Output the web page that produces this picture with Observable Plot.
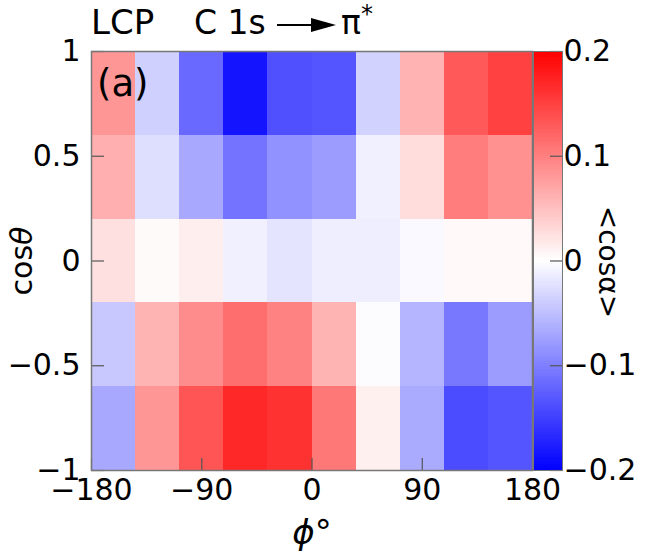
<!DOCTYPE html>
<html><head><meta charset="utf-8">
<script src="https://cdn.jsdelivr.net/npm/d3@7"></script>
<script src="https://cdn.jsdelivr.net/npm/@observablehq/plot@0.6"></script>
<style>
body{margin:0;background:#fff;}
#wrap{position:relative;width:646px;height:559px;background:#fff;}
#wrap svg{position:absolute;left:0;top:0;}
</style></head><body><div id="wrap"></div>
<script>
// bin edges
const phiEdges = [-180,-144,-108,-72,-36,0,36,72,108,144,180];
const cosEdges = [-1,-0.6,-0.2,0.2,0.6,1];
// <cos alpha> per cell, one array per cos(theta) row, bottom to top
const rowM10_M06 = [-0.068, 0.082, 0.133, 0.169, 0.161, 0.106, 0.012,-0.067,-0.141,-0.133];
const rowM06_M02 = [-0.043, 0.059, 0.090, 0.114, 0.098, 0.059,-0.002,-0.059,-0.106,-0.078];
const rowM02_P02 = [ 0.024, 0.004, 0.013,-0.012,-0.021,-0.013,-0.013,-0.005, 0.005, 0.005];
const rowP02_P06 = [ 0.063,-0.026,-0.068,-0.110,-0.086,-0.078,-0.012, 0.027, 0.102, 0.086];
const rowP06_P10 = [ 0.082,-0.037,-0.118,-0.184,-0.137,-0.133,-0.035, 0.060, 0.130, 0.149];
const rows = [rowM10_M06, rowM06_M02, rowM02_P02, rowP02_P06, rowP06_P10];
const xTicks = [-180,-90,0,90,180];
const yTicks = [-1,-0.5,0,0.5,1];
const zTicks = [-0.2,-0.1,0,0.1,0.2];

const cells = [];
rows.forEach((r, j) => r.forEach((v, i) => cells.push({
  x1: phiEdges[i], x2: phiEdges[i+1], y1: cosEdges[j], y2: cosEdges[j+1], v
})));

const W = 646, H = 559, mT = 51, mB = 89;
const mL = 91, mR = 114;           // main panel
const cbL = 533, cbR = 84;         // colour bar
const frameW = W - mL - mR, frameH = H - mT - mB, cbW = W - cbL - cbR;
const fmt = d3.format("~g");
const FONT = "DejaVu Sans";
const colorOpts = {type: "linear", domain: [-0.2, 0, 0.2], range: ["#0000ff", "#ffffff", "#ff0000"], interpolate: "rgb", clamp: true};

const main = Plot.plot({
  width: W, height: H, marginLeft: mL, marginRight: mR, marginTop: mT, marginBottom: mB,
  style: {fontFamily: FONT, fontSize: "30px", color: "#000", background: "#fff"},
  x: {domain: [-180, 180], ticks: xTicks, tickSize: 0, tickPadding: 8, tickFormat: fmt, label: null},
  y: {domain: [-1, 1], ticks: yTicks, tickSize: 0, tickPadding: 11, tickFormat: fmt, label: null},
  color: colorOpts,
  marks: [
    Plot.rect(cells, {x1: "x1", x2: "x2", y1: "y1", y2: "y2", fill: "v", shapeRendering: "crispEdges"}),
    Plot.ruleX(xTicks, {insetTop: frameH - 12, stroke: "#555", strokeWidth: 1.2}),
    Plot.ruleY(yTicks, {insetRight: frameW - 13, stroke: "#555", strokeWidth: 1.2}),
    Plot.frame({stroke: "#777", strokeWidth: 1.5})
  ]
});

const steps = d3.range(200).map(i => -0.2 + i * 0.002);
const bar = Plot.plot({
  width: W, height: H, marginLeft: cbL, marginRight: cbR, marginTop: mT, marginBottom: mB,
  style: {fontFamily: FONT, fontSize: "30px", color: "#000", background: "transparent"},
  x: {domain: [0, 1], axis: null},
  y: {domain: [-0.2, 0.2], ticks: zTicks, axis: "right", tickSize: 0, tickPadding: 1, tickFormat: fmt, label: null},
  color: colorOpts,
  marks: [
    Plot.rect(steps, {x1: 0, x2: 1, y1: d => d, y2: d => d + 0.002, fill: d => d + 0.001, shapeRendering: "crispEdges"}),
    Plot.ruleY(zTicks, {insetLeft: cbW - 12, stroke: "#555", strokeWidth: 1.2}),
    Plot.frame({stroke: "#777", strokeWidth: 1})
  ]
});

const wrap = document.getElementById("wrap");
wrap.appendChild(main);
wrap.appendChild(bar);

// annotations: title, panel tag, axis titles
const NS = "http://www.w3.org/2000/svg";
const ann = document.createElementNS(NS, "svg");
ann.setAttribute("width", W); ann.setAttribute("height", H);
ann.setAttribute("font-family", FONT);
ann.innerHTML = `
  <text x="91" y="34" font-size="34">LCP</text>
  <text x="194" y="34" font-size="33">C 1s</text>
  <line x1="277" y1="25" x2="316" y2="25" stroke="#000" stroke-width="2.2"/>
  <polygon points="311,18 336,25 311,32" fill="#000"/>
  <text x="341" y="34" font-size="33">π<tspan font-size="24" dy="-12">*</tspan></text>
  <text x="97" y="96" font-size="37">(a)</text>
  <text x="312" y="544" font-size="34" text-anchor="middle"><tspan font-style="italic">ϕ</tspan>°</text>
  <text transform="translate(32,261) rotate(-90)" font-size="30" text-anchor="middle">cos<tspan font-style="italic">θ</tspan></text>
  <text transform="translate(599,262) rotate(90)" font-size="28" text-anchor="middle">&lt;cosα&gt;</text>
`;
wrap.appendChild(ann);
</script>
</body></html>
